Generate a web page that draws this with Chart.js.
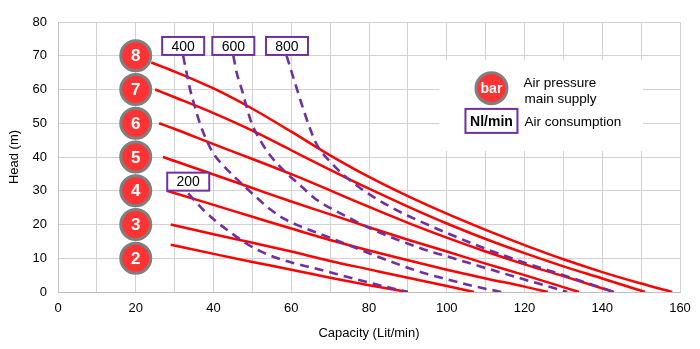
<!DOCTYPE html>
<html>
<head>
<meta charset="utf-8">
<script src="https://cdn.jsdelivr.net/npm/chart.js@4.4.1/dist/chart.umd.min.js"></script>
<style>
  html, body { margin: 0; padding: 0; background: #ffffff; }
  #wrap { width: 700px; height: 349px; }
</style>
</head>
<body>
<div id="wrap"><canvas id="pumpChart" width="700" height="349"></canvas></div>
<script>
// Performance curves: capacity (Lit/min) vs head (m)

// Head curves at constant air supply pressure (bar)
const bar8 = [[24,68],[30,65.3],[40,60.3],[50,54.3],[60,47.5],[70,40.5],[80,34.1],[90,28.4],[100,23.2],[110,18.4],[120,13.9],[130,9.7],[140,5.9],[150,2.5],[158,0]];
const bar7 = [[25,60],[30,57.7],[40,53],[50,47.8],[60,42],[70,36.2],[80,30.6],[90,25.3],[100,20.3],[110,15.7],[120,11.5],[130,7.6],[140,4],[151,0]];
const bar6 = [[26,50],[30,48.3],[40,43.8],[50,39.4],[60,34.9],[70,30.1],[80,25.2],[90,20.5],[100,16.1],[110,12],[120,8.2],[130,4.7],[143,0]];
const bar5 = [[27,40],[30,38.8],[40,34.8],[50,30.8],[60,26.8],[70,23],[80,19.2],[90,15.5],[100,12],[110,8.4],[120,5],[134,0]];
const bar4 = [[28,30],[40,25.8],[50,22.3],[60,18.8],[70,15.4],[80,12.3],[90,9.4],[100,6.6],[110,4],[120,1.6],[126,0]];
const bar3 = [[29,20],[40,17.1],[50,14.6],[60,12],[70,9.2],[80,6.7],[90,4.2],[100,1.8],[107,0]];
const bar2 = [[29,14],[40,11.3],[50,8.9],[60,6.6],[70,4.2],[80,2],[90,0]];

// Air consumption lines (Nl/min)
const nl800 = [[58.8,70],[60.2,64.8],[61.8,58.9],[63.3,53.5],[64.8,48.5],[66.2,44.5],[67.4,42.1],[70,38.6],[73.4,34.7],[77.3,31.2],[81.1,28.2],[85.4,25.3],[90,22.6],[100,17.5],[110,12.8],[120,8.7],[130,5],[143,0]];
const nl600 = [[45.1,70],[46,64.8],[47.3,59.9],[48.5,54.9],[49.8,50],[52,45],[54.5,40.6],[58,36.1],[62.7,31.2],[66,27.8],[70,24.9],[75,21.9],[80,19],[88,15.2],[95,12.3],[100,10.6],[106,8.5],[110,7.1],[120,3.7],[131,0]];
const nl400 = [[32.2,70],[33.1,64.8],[34,59.9],[35.2,54.9],[36.5,50],[38.2,45],[40,41],[42.5,37.5],[45,34.6],[49,30.2],[54.5,24.6],[58,21.8],[61.4,19.9],[67.4,17.2],[75,13.8],[80,11.5],[88,8],[95,5.3],[100,3.8],[106,2],[114,0]];
const nl200 = [[33.5,29.2],[37.4,24.3],[40.8,20.8],[44.7,17.4],[48.1,14.6],[52,12.1],[56.3,10.1],[60.5,8.6],[66.5,6.9],[75,4.3],[82,2.2],[90,0]];

// Pressure badges (bar) and their anchor points
const pressureLabels = ['8','7','6','5','4','3','2'];
const badgeHead = [70,60,50,40,30,20,10];
const badgeCapacity = 20;

// Air consumption tags (Nl/min) and their anchor points
const flowLabels = ['400','600','800','200'];
const flowTagCapacity = [32.2,45.1,58.9,33.5];
const flowTagHead = [72.9,72.9,72.9,32.7];

// Axis ticks
const xTicks = { min: 0, max: 160, step: 10, labelEvery: 20 };
const yTicks = { min: 0, max: 80, step: 10 };

const FONT = '"Liberation Sans", Arial, Helvetica, sans-serif';
const RED = '#ff0000';
const PURPLE = '#7030a0';
const GRID = '#d2d2d2';

const toPoints = arr => arr.map(p => ({ x: p[0], y: p[1] }));

const redLine = (label, arr) => ({
  label, data: toPoints(arr), showLine: true,
  borderColor: RED, borderWidth: 2.5, pointRadius: 0,
  cubicInterpolationMode: 'monotone', fill: false
});
const dashLine = (label, arr) => ({
  label, data: toPoints(arr), showLine: true,
  borderColor: PURPLE, borderWidth: 2.6, borderDash: [9, 6], pointRadius: 0,
  cubicInterpolationMode: 'monotone', fill: false
});

const badgeSet = {
  label: 'badges',
  data: badgeHead.map(h => ({ x: badgeCapacity, y: h })),
  showLine: false,
  pointRadius: 15, pointHoverRadius: 15,
  pointBackgroundColor: '#ff3333',
  pointBorderColor: '#7f7f7f',
  pointBorderWidth: 3
};

// Legend panel drawn inside the plot area, plus badge/tag captions
const annotate = {
  id: 'annotate',
  beforeDatasetsDraw(chart) {
    const { ctx, scales: { x, y } } = chart;
    const l = x.getPixelForValue(98.1), r = x.getPixelForValue(150.5);
    const t = y.getPixelForValue(68.7), b = y.getPixelForValue(41.8);
    ctx.save();
    ctx.fillStyle = '#ffffff';
    ctx.fillRect(l, t, r - l, b - t);
    ctx.restore();
  },
  afterDatasetsDraw(chart) {
    const { ctx, scales: { x, y } } = chart;
    ctx.save();
    // numbers inside pressure badges
    const meta = chart.getDatasetMeta(0);
    ctx.fillStyle = '#ffffff';
    ctx.font = 'bold 17px ' + FONT;
    ctx.textAlign = 'center';
    ctx.textBaseline = 'middle';
    meta.data.forEach((pt, i) => {
      ctx.fillText(pressureLabels[i], pt.x, pt.y + 1);
    });
    // air consumption tags
    flowLabels.forEach((txt, i) => {
      const cx = x.getPixelForValue(flowTagCapacity[i]);
      const cy = y.getPixelForValue(flowTagHead[i]);
      const w = 42, h = 18;
      ctx.fillStyle = '#ffffff';
      ctx.fillRect(cx - w / 2, cy - h / 2, w, h);
      ctx.strokeStyle = PURPLE;
      ctx.lineWidth = 2;
      ctx.strokeRect(cx - w / 2, cy - h / 2, w, h);
      ctx.fillStyle = '#000000';
      ctx.font = '14px ' + FONT;
      ctx.fillText(txt, cx, cy + 1);
    });
    // legend panel contents
    const lx = x.getPixelForValue(111.5);
    const ly1 = y.getPixelForValue(60.4);
    ctx.beginPath();
    ctx.arc(lx, ly1, 15.5, 0, Math.PI * 2);
    ctx.fillStyle = '#ff3333';
    ctx.fill();
    ctx.lineWidth = 3;
    ctx.strokeStyle = '#7f7f7f';
    ctx.stroke();
    ctx.fillStyle = '#ffffff';
    ctx.font = 'bold 14px ' + FONT;
    ctx.fillText('bar', lx, ly1 + 1);

    const ly2 = y.getPixelForValue(50.7);
    ctx.fillStyle = '#ffffff';
    ctx.fillRect(lx - 26, ly2 - 12, 52, 24);
    ctx.strokeStyle = PURPLE;
    ctx.lineWidth = 2;
    ctx.strokeRect(lx - 26, ly2 - 12, 52, 24);
    ctx.fillStyle = '#000000';
    ctx.font = 'bold 14px ' + FONT;
    ctx.fillText('Nl/min', lx, ly2 + 1);

    ctx.textAlign = 'left';
    ctx.font = '13.5px ' + FONT;
    const tx = lx + 32;
    ctx.fillText('Air pressure', tx, ly1 - 5);
    ctx.fillText('main supply', tx + 1, ly1 + 11);
    ctx.fillText('Air consumption', tx + 1, ly2 + 1);
    ctx.restore();
  }
};

new Chart(document.getElementById('pumpChart'), {
  type: 'scatter',
  data: {
    datasets: [
      badgeSet,
      dashLine('800', nl800),
      dashLine('600', nl600),
      dashLine('400', nl400),
      dashLine('200', nl200),
      redLine('8 bar', bar8),
      redLine('7 bar', bar7),
      redLine('6 bar', bar6),
      redLine('5 bar', bar5),
      redLine('4 bar', bar4),
      redLine('3 bar', bar3),
      redLine('2 bar', bar2)
    ]
  },
  options: {
    responsive: false,
    animation: false,
    devicePixelRatio: 1,
    layout: { padding: { left: 0, right: 20, top: 22, bottom: 0 } },
    plugins: { legend: { display: false }, tooltip: { enabled: false } },
    scales: {
      x: {
        type: 'linear', min: xTicks.min, max: xTicks.max,
        afterFit(s) { s.height = 57; },
        grid: { color: GRID, lineWidth: 1, drawTicks: false },
        border: { color: '#bfbfbf', width: 1 },
        ticks: {
          stepSize: xTicks.step, autoSkip: false, padding: 9, maxRotation: 0,
          color: '#000000', font: { family: FONT, size: 13 },
          callback: v => (v % xTicks.labelEvery === 0 ? v : '')
        },
        title: {
          display: true, text: 'Capacity (Lit/min)', color: '#000000',
          font: { family: FONT, size: 13 }, padding: { top: 0, bottom: 8 }
        }
      },
      y: {
        type: 'linear', min: yTicks.min, max: yTicks.max,
        afterFit(s) { s.width = 58; },
        grid: { color: GRID, lineWidth: 1, drawTicks: false },
        border: { color: '#bfbfbf', width: 1 },
        ticks: {
          stepSize: yTicks.step, padding: 11,
          color: '#000000', font: { family: FONT, size: 13 }
        },
        title: {
          display: true, text: 'Head (m)', color: '#000000',
          font: { family: FONT, size: 13 }, padding: { top: 7, bottom: 0 }
        }
      }
    }
  },
  plugins: [annotate]
});
</script>
</body>
</html>
